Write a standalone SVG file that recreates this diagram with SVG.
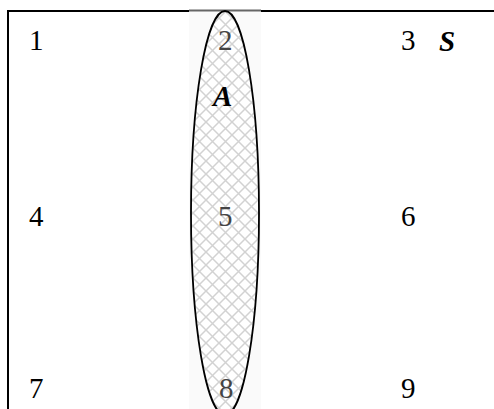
<svg xmlns="http://www.w3.org/2000/svg" width="494" height="409" viewBox="0 0 494 409">
<style>
.num{font-family:"Liberation Serif","Times New Roman",serif;font-size:29px;fill:#000}
.in{fill:#444}
.lbl{font-family:"Liberation Serif","Times New Roman",serif;font-size:29px;font-weight:bold;font-style:italic;fill:#000}
.frame{stroke:#000;stroke-width:2;fill:none}
</style>
<defs>
<pattern id="hatch" width="13" height="13" patternUnits="userSpaceOnUse" x="219" y="5">
<path d="M0,0 L13,13 M13,0 L0,13 M-1,12 L1,14 M12,-1 L14,1" stroke="#d2d2d2" stroke-width="1.5"/>
</pattern>
</defs>
<rect x="189" y="11" width="72" height="398" fill="#fafafa"/>
<g id="frame">
<path class="frame" d="M8,409 V11 H189"/>
<path class="frame" d="M261,11 H494"/>
<path d="M189,10.5 H261" stroke="#666" stroke-width="2" fill="none"/>
</g>
<g id="setA">
<ellipse cx="225" cy="213" rx="34" ry="202" fill="#fff"/>
<ellipse cx="225" cy="213" rx="34" ry="202" fill="url(#hatch)" stroke="#000" stroke-width="1.8"/>
<text class="lbl" x="213" y="106">A</text>
</g>
<g id="setS"><text class="lbl" x="439" y="51">S</text></g>
<g id="n1"><text class="num" x="29" y="50">1</text></g>
<g id="n2"><text class="num in" x="218" y="50">2</text></g>
<g id="n3"><text class="num" x="401" y="50">3</text></g>
<g id="n4"><text class="num" x="29" y="226">4</text></g>
<g id="n5"><text class="num in" x="218" y="226">5</text></g>
<g id="n6"><text class="num" x="401" y="226">6</text></g>
<g id="n7"><text class="num" x="29" y="398">7</text></g>
<g id="n8"><text class="num in" x="219" y="398">8</text></g>
<g id="n9"><text class="num" x="401" y="398">9</text></g>
</svg>
